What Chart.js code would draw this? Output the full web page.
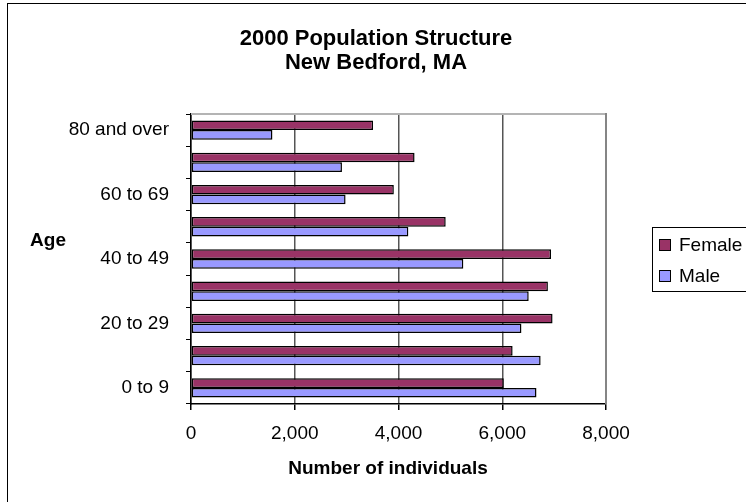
<!DOCTYPE html>
<html>
<head>
    <title>2000 Population Structure</title>
    <script src="https://cdn.jsdelivr.net/npm/chart.js"></script>
    <style>
        html, body { margin: 0; padding: 0; background: #fff; }
        #wrap { position: relative; width: 746px; height: 502px; }
    </style>
</head>
<body>
    <div id="wrap"><canvas id="chart" width="746" height="502"></canvas></div>

    <script>
        // values (bottom group first)
        const ageGroups = ['0 to 9', '10 to 19', '20 to 29', '30 to 39', '40 to 49',
                           '50 to 59', '60 to 69', '70 to 79', '80 and over'];
        const female = [6030, 6200, 6970, 6880, 6940, 4910, 3910, 4310, 3510];
        const male   = [6660, 6740, 6370, 6510, 5250, 4190, 2980, 2910, 1570];
        const xTicks = [0, 2000, 4000, 6000, 8000];

        const titleLines = ['2000 Population Structure', 'New Bedford, MA'];
        const FONT = "'Liberation Sans', Arial, sans-serif";

        // frame, titles, legend box and the plot's top/right edge
        const decor = {
            id: 'decor',
            beforeDraw(chart) {
                const c = chart.ctx;
                c.save();
                c.fillStyle = '#fff';
                c.fillRect(0, 0, chart.width, chart.height);
                c.restore();
            },
            afterDraw(chart) {
                const c = chart.ctx;
                const a = chart.chartArea;
                c.save();

                // outer chart border (left + top visible)
                c.strokeStyle = '#000';
                c.lineWidth = 1;
                c.strokeRect(7.5, 3.5, 1000, 1000);

                // plot area top and right edges
                c.strokeStyle = '#b4b4b4';
                c.lineWidth = 2;
                c.beginPath();
                c.moveTo(a.left, a.top);
                c.lineTo(a.right, a.top);
                c.stroke();
                c.strokeStyle = '#858585';
                c.beginPath();
                c.moveTo(a.right, a.top - 1);
                c.lineTo(a.right, a.bottom);
                c.stroke();

                // titles
                c.fillStyle = '#000';
                c.textAlign = 'center';
                c.textBaseline = 'middle';
                c.font = 'bold 22px ' + FONT;
                c.fillText(titleLines[0], 376, 39);
                c.fillText(titleLines[1], 376, 63);

                c.font = 'bold 19px ' + FONT;
                c.fillText('Age', 48, 241);
                c.fillText('Number of individuals', 388, 469);

                // legend
                c.strokeStyle = '#000';
                c.lineWidth = 1;
                c.strokeRect(652.5, 227.5, 200, 64);
                c.font = '19px ' + FONT;
                c.textAlign = 'left';
                chart.data.datasets.forEach((ds, i) => {
                    const y = 239 + i * 31;
                    c.fillStyle = ds.backgroundColor;
                    c.fillRect(659.5, y + 0.5, 11, 11);
                    c.strokeRect(659.5, y + 0.5, 11, 11);
                    c.fillStyle = '#000';
                    c.fillText(ds.label, 679, y + 6.5);
                });
                c.restore();
            }
        };

        const ctx = document.getElementById('chart').getContext('2d');
        const chart = new Chart(ctx, {
            type: 'bar',
            data: {
                labels: ageGroups,
                datasets: [{
                    label: 'Female',
                    data: female,
                    backgroundColor: '#993366',
                    borderColor: '#000',
                    borderWidth: 1.5,
                    borderSkipped: false
                }, {
                    label: 'Male',
                    data: male,
                    backgroundColor: '#9999FF',
                    borderColor: '#000',
                    borderWidth: 1.5,
                    borderSkipped: false
                }]
            },
            plugins: [decor],
            options: {
                indexAxis: 'y',
                responsive: false,
                animation: false,
                categoryPercentage: 0.6,
                barPercentage: 1.0,
                layout: { padding: { top: 114, right: 140, left: 0, bottom: 0 } },
                plugins: {
                    legend: { display: false },
                    title: { display: false },
                    tooltip: { enabled: false }
                },
                scales: {
                    x: {
                        min: 0,
                        max: 8000,
                        afterBuildTicks(scale) {
                            scale.ticks = xTicks.map(v => ({ value: v }));
                        },
                        afterFit(scale) {
                            scale.height = 98;
                            scale.paddingLeft = 0;
                            scale.paddingRight = 0;
                        },
                        grid: {
                            color: '#555',
                            lineWidth: 1.5,
                            tickColor: '#000',
                            tickLength: 6
                        },
                        border: { color: '#000', width: 1.5 },
                        ticks: {
                            color: '#000',
                            padding: 12,
                            maxRotation: 0,
                            font: { family: FONT, size: 19 },
                            callback: v => v.toLocaleString('en-US')
                        }
                    },
                    y: {
                        reverse: true,
                        afterFit(scale) {
                            scale.width = 191;
                            scale.paddingTop = 0;
                            scale.paddingBottom = 0;
                        },
                        grid: {
                            drawOnChartArea: false,
                            offset: true,
                            tickColor: '#000',
                            tickLength: 5
                        },
                        border: { color: '#000', width: 1.5 },
                        ticks: {
                            autoSkip: false,
                            color: '#000',
                            padding: 17,
                            font: { family: FONT, size: 19 },
                            callback: function (v, i) {
                                return i % 2 === 0 ? this.getLabelForValue(v) : '';
                            }
                        }
                    }
                }
            }
        });
    </script>
</body>
</html>
